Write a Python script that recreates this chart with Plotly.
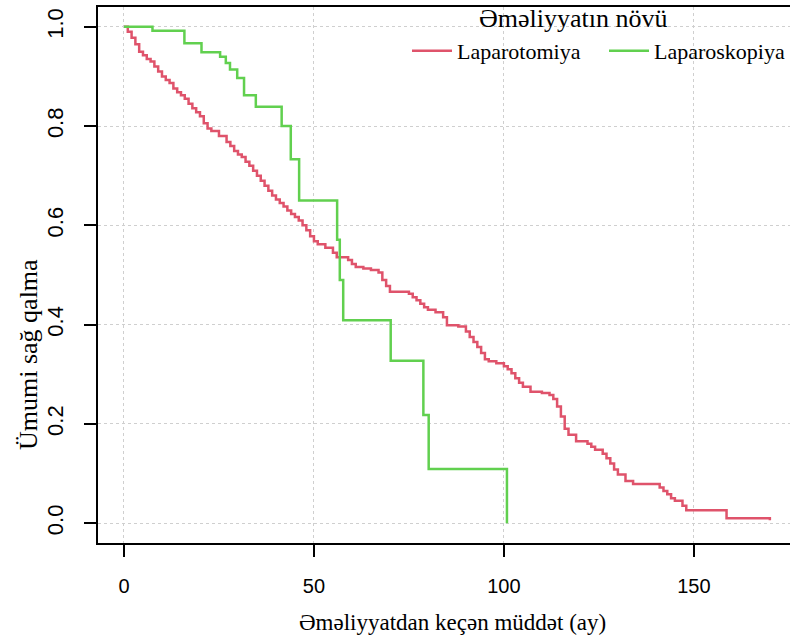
import plotly.graph_objects as go

# Kaplan-Meier step data
red_t = [0, 1, 2, 3, 4, 5, 6, 7, 8, 9, 10, 11, 12, 13, 14, 15, 16, 17, 18, 19, 20,
         21, 22, 23, 25, 27, 28, 29, 30, 31, 32, 33, 34, 35, 36, 37, 38, 39, 40, 41,
         42, 43, 44, 45, 46, 47, 48, 49, 50, 51, 53, 55, 56, 59, 60, 61, 63, 65, 67,
         68, 69, 70, 75, 76, 77, 78, 79, 80, 82, 84, 85, 88, 90, 91, 92, 93, 94, 95,
         96, 98, 100, 101, 102, 103, 104, 105, 107, 110, 112, 113, 114, 115, 116, 117,
         119, 122, 123, 124, 126, 127, 128, 129, 130, 132, 134, 141, 142, 143, 144,
         145, 147, 148, 158.6, 170]
red_s = [1.0, 0.99, 0.978, 0.965, 0.95, 0.943, 0.935, 0.93, 0.92, 0.91, 0.90, 0.893,
         0.887, 0.876, 0.868, 0.862, 0.855, 0.845, 0.836, 0.828, 0.82, 0.806, 0.795,
         0.79, 0.78, 0.768, 0.76, 0.75, 0.743, 0.738, 0.728, 0.72, 0.71, 0.70, 0.69,
         0.68, 0.67, 0.66, 0.652, 0.645, 0.638, 0.63, 0.623, 0.617, 0.61, 0.60, 0.59,
         0.578, 0.568, 0.562, 0.555, 0.545, 0.536, 0.53, 0.522, 0.516, 0.513, 0.51,
         0.505, 0.49, 0.478, 0.466, 0.462, 0.455, 0.449, 0.442, 0.435, 0.43, 0.425,
         0.415, 0.399, 0.396, 0.386, 0.375, 0.365, 0.355, 0.343, 0.33, 0.326, 0.322,
         0.316, 0.31, 0.302, 0.292, 0.283, 0.275, 0.265, 0.262, 0.258, 0.25, 0.235,
         0.215, 0.19, 0.178, 0.165, 0.16, 0.154, 0.148, 0.14, 0.131, 0.12, 0.108, 0.098,
         0.085, 0.079, 0.072, 0.065, 0.058, 0.05, 0.045, 0.035, 0.026, 0.0097, 0.006]

green_t = [0, 7.5, 15.9, 20.4, 25.3, 26.8, 27.9, 29.8, 31.6, 34.7, 41.5, 43.9, 46.1,
           56.1, 56.8, 57.7, 70.2, 78.8, 80.2, 100.8]
green_s = [1.0, 0.992, 0.967, 0.949, 0.94, 0.927, 0.914, 0.897, 0.862, 0.839, 0.80,
           0.733, 0.650, 0.571, 0.490, 0.409, 0.327, 0.218, 0.109, 0.0]

series_names = ["Laparotomiya", "Laparoskopiya"]
legend_title = "Əməliyyatın növü"
x_title = "Əməliyyatdan keçən müddət (ay)"
y_title = "Ümumi sağ qalma"
x_ticks = [0, 50, 100, 150]
y_ticks = [0.0, 0.2, 0.4, 0.6, 0.8, 1.0]

RED = "#DF536B"
GREEN = "#61D04F"

fig = go.Figure()
fig.add_trace(go.Scatter(x=red_t, y=red_s, mode="lines", line_shape="hv",
                         line=dict(color=RED, width=2.5), name=series_names[0],
                         legend="legend"))
fig.add_trace(go.Scatter(x=green_t, y=green_s, mode="lines", line_shape="hv",
                         line=dict(color=GREEN, width=2.5), name=series_names[1],
                         legend="legend2"))

W, H = 790, 639
L, T, B, R = 98, 7, 96, 0
PW, PH = W - L - R, H - T - B


def px_x(p):
    return (p - L) / PW


def px_y(p):
    return (H - B - p) / PH


leg_font = dict(family="Liberation Serif", size=22, color="black")

fig.update_layout(
    width=W, height=H,
    margin=dict(l=L, r=R, t=T, b=B, pad=0),
    paper_bgcolor="white", plot_bgcolor="white",
    showlegend=True,
    legend=dict(
        orientation="h",
        x=px_x(407), xanchor="left",
        y=px_y(30), yanchor="top",
        bgcolor="rgba(0,0,0,0)",
        font=leg_font, itemwidth=40,
    ),
    legend2=dict(
        orientation="h",
        x=1.0, xanchor="right",
        y=px_y(30), yanchor="top",
        bgcolor="rgba(0,0,0,0)",
        font=leg_font, itemwidth=40,
    ),
    xaxis=dict(
        range=[-6.84, 175.3],
        tickvals=x_ticks,
        ticks="outside", ticklen=12, tickwidth=1.5, tickcolor="black",
        showline=True, linecolor="black", linewidth=1.5, mirror=True,
        showgrid=True, gridcolor="#cfcfcf", griddash="dot", gridwidth=1.2,
        zeroline=False,
        tickfont=dict(family="Liberation Sans", size=20, color="black"),
        ticklabelstandoff=12,
    ),
    yaxis=dict(
        range=[-0.04, 1.04],
        tickvals=y_ticks, tickformat=".1f", tickangle=-90,
        ticks="outside", ticklen=12, tickwidth=1.5, tickcolor="black",
        showline=True, linecolor="black", linewidth=1.5, mirror=False,
        showgrid=True, gridcolor="#cfcfcf", griddash="dot", gridwidth=1.2,
        zeroline=False,
        tickfont=dict(family="Liberation Sans", size=22, color="black"),
        ticklabelstandoff=12,
    ),
    annotations=[
        dict(text=legend_title, xref="paper", yref="paper", x=px_x(573), y=px_y(18),
             xanchor="center", yanchor="middle", showarrow=False,
             font=dict(family="Liberation Serif", size=26, color="black")),
        dict(text=x_title, xref="paper", yref="paper", x=px_x(452), y=px_y(622),
             xanchor="center", yanchor="middle", showarrow=False,
             font=dict(family="Liberation Serif", size=23, color="black")),
        dict(text=y_title, xref="paper", yref="paper", x=px_x(28), y=px_y(355),
             xanchor="center", yanchor="middle", showarrow=False, textangle=-90,
             font=dict(family="Liberation Serif", size=26, color="black")),
    ],
)

fig.write_html("out.html")
